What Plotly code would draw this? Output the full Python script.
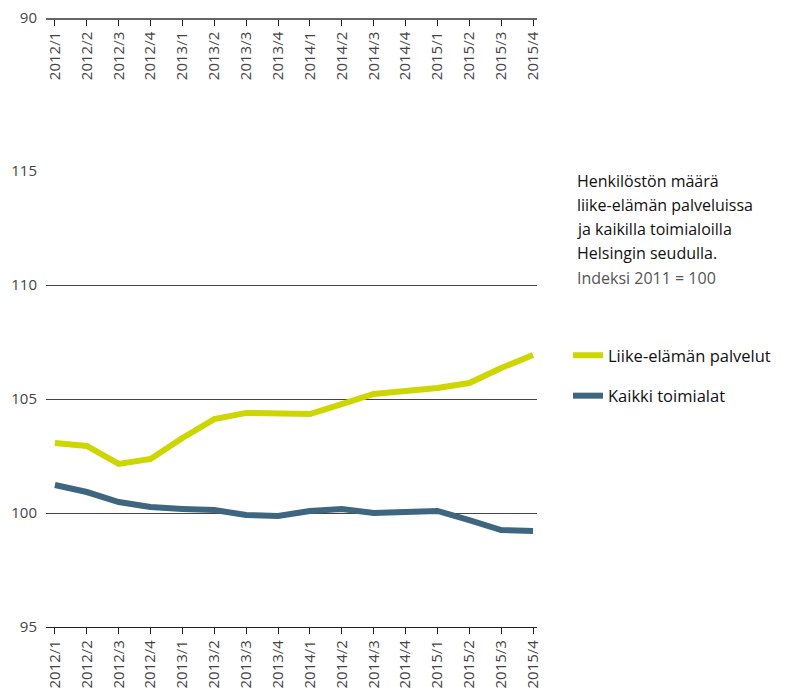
import plotly.graph_objects as go

quarters = ["2012/1", "2012/2", "2012/3", "2012/4", "2013/1", "2013/2", "2013/3", "2013/4",
            "2014/1", "2014/2", "2014/3", "2014/4", "2015/1", "2015/2", "2015/3", "2015/4"]
liike = [103.07, 102.94, 102.15, 102.37, 103.29, 104.12, 104.39, 104.34,
         104.34, 104.78, 105.22, 105.35, 105.48, 105.70, 106.36, 106.93]
kaikki = [101.23, 100.92, 100.48, 100.26, 100.18, 100.13, 99.91, 99.87,
          100.09, 100.18, 100.00, 100.04, 100.09, 99.69, 99.25, 99.21]
y_ticks = [95, 100, 105, 110, 115]
top_tick = [90]
title_lines = ["Henkilöstön määrä", "liike-elämän palveluissa",
               "ja kaikilla toimialoilla", "Helsingin seudulla."]
subtitle = "Indeksi 2011 = 100"

YELLOW = "#cdd600"
BLUE = "#3f6680"
FONT = "Open Sans"

fig = go.Figure()
fig.add_trace(go.Scatter(x=quarters, y=liike, mode="lines", name="Liike-elämän palvelut",
                         line=dict(color=YELLOW, width=6), legendgroup="a"))
fig.add_trace(go.Scatter(x=quarters, y=kaikki, mode="lines", name="Kaikki toimialat",
                         line=dict(color=BLUE, width=6), legendgroup="b"))
# invisible trace for the top broken axis
fig.add_trace(go.Scatter(x=quarters, y=[top_tick[0]] * len(quarters), xaxis="x2", yaxis="y2",
                         mode="lines", line=dict(width=0), showlegend=False, hoverinfo="skip"))

W, H = 793, 698
ml, mr, mt, mb = 46, 256, 10, 71
pw = W - ml - mr
ph = H - mt - mb


def px_y(y):
    return (H - mb - y) / ph


def px_x(x):
    return (x - ml) / pw


tickfont = dict(family=FONT, size=15, color="#444")
fig.update_layout(
    width=W, height=H,
    margin=dict(l=ml, r=mr, t=mt, b=mb, autoexpand=False),
    plot_bgcolor="white", paper_bgcolor="white",
    font=dict(family=FONT, color="#222"),
    xaxis=dict(type="category", categoryarray=quarters, range=[-0.28, 15.125],
               showgrid=False, showline=True, linecolor="#222", linewidth=1.2,
               ticks="outside", ticklen=6, tickcolor="#222", tickwidth=1,
               tickangle=-90, tickfont=tickfont, anchor="y", zeroline=False,
               automargin=False),
    yaxis=dict(range=[95, 115], domain=[0, px_y(171)], tickvals=y_ticks,
               showgrid=True, gridcolor="#444", gridwidth=1, zeroline=False,
               showline=False, ticks="", tickfont=tickfont, ticklabelstandoff=8,
               automargin=False),
    xaxis2=dict(type="category", categoryarray=quarters, range=[-0.28, 15.125],
                anchor="y2", showgrid=False, showline=True, linecolor="#666", linewidth=1.5,
                ticks="outside", ticklen=6, tickcolor="#222", tickwidth=1,
                tickangle=-90, tickfont=tickfont, zeroline=False, automargin=False),
    yaxis2=dict(range=[90, 91], domain=[px_y(18), 1], tickvals=top_tick,
                showgrid=False, zeroline=False, showline=False, ticks="",
                tickfont=tickfont, ticklabelstandoff=8, automargin=False),
    legend=dict(x=px_x(568), y=px_y(338), xanchor="left", yanchor="top",
                font=dict(family=FONT, size=16.5, color="#111"),
                tracegroupgap=16, itemwidth=30, bgcolor="rgba(0,0,0,0)"),
    showlegend=True,
)

line_y = [181, 205, 229, 253]
for txt, yy in zip(title_lines, line_y):
    fig.add_annotation(xref="paper", yref="paper", x=px_x(575), y=px_y(yy),
                       xanchor="left", yanchor="middle", align="left", showarrow=False,
                       text=txt, font=dict(family=FONT, size=16, color="#111"))
fig.add_annotation(xref="paper", yref="paper", x=px_x(575), y=px_y(278),
                   xanchor="left", yanchor="middle", align="left", showarrow=False,
                   text=subtitle, font=dict(family=FONT, size=16, color="#555"))

fig.write_html("out.html", post_script="document.body.style.margin='0';",
               config={"displayModeBar": False})
